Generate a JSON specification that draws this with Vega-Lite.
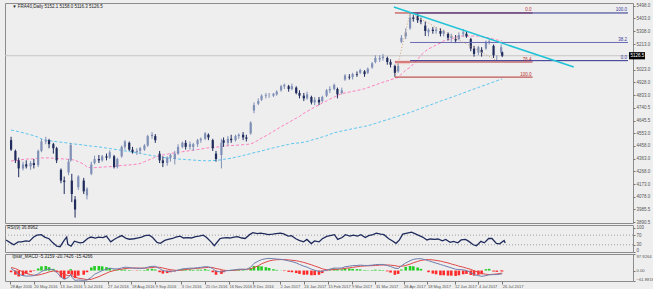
{
"$schema": "https://vega.github.io/schema/vega-lite/v6.json",
"background": "#eeeeee",
"padding": {"left": 3, "top": 2, "right": 0, "bottom": 0},
"spacing": 2,
"bounds": "flush",
"config": {"view": {"stroke": "#8c8c8c", "strokeWidth": 1}, "font": "Liberation Sans", "axis": {"labelFont": "Liberation Sans", "labelColor": "#555555", "tickColor": "#777777", "grid": false, "domain": false, "labelOverlap": false}},
"datasets": {
"px": [
{"d":"2016-04-29","o":4500,"h":4525,"l":4420,"c":4430,"a":4346,"b":4575,"r":50,"m":12,"s":18,"hh":-10},
{"d":"2016-05-03","o":4420,"h":4430,"l":4330,"c":4350,"a":4348,"b":4568,"r":38,"m":-5,"s":12,"hh":-25},
{"d":"2016-05-06","o":4350,"h":4370,"l":4225,"c":4290,"a":4352,"b":4562,"r":30,"m":-22,"s":3,"hh":-35},
{"d":"2016-05-10","o":4290,"h":4340,"l":4275,"c":4320,"a":4356,"b":4555,"r":42,"m":-30,"s":-8,"hh":-30},
{"d":"2016-05-13","o":4320,"h":4350,"l":4290,"c":4305,"a":4360,"b":4548,"r":42,"m":-33,"s":-17,"hh":-20},
{"d":"2016-05-17","o":4305,"h":4345,"l":4280,"c":4330,"a":4360,"b":4540,"r":46,"m":-32,"s":-24,"hh":-10},
{"d":"2016-05-20","o":4330,"h":4360,"l":4290,"c":4315,"a":4362,"b":4533,"r":44,"m":-30,"s":-28,"hh":-3},
{"d":"2016-05-24","o":4315,"h":4430,"l":4300,"c":4420,"a":4366,"b":4522,"r":62,"m":-20,"s":-27,"hh":12},
{"d":"2016-05-27","o":4420,"h":4510,"l":4410,"c":4490,"a":4368,"b":4508,"r":70,"m":-6,"s":-22,"hh":25},
{"d":"2016-05-31","o":4490,"h":4525,"l":4470,"c":4500,"a":4368,"b":4500,"r":72,"m":5,"s":-15,"hh":27},
{"d":"2016-06-03","o":4500,"h":4510,"l":4440,"c":4470,"a":4368,"b":4496,"r":62,"m":8,"s":-8,"hh":20},
{"d":"2016-06-07","o":4470,"h":4480,"l":4400,"c":4440,"a":4366,"b":4492,"r":55,"m":5,"s":-3,"hh":10},
{"d":"2016-06-10","o":4440,"h":4450,"l":4330,"c":4350,"a":4364,"b":4488,"r":40,"m":-10,"s":-4,"hh":-10},
{"d":"2016-06-14","o":4280,"h":4290,"l":4180,"c":4200,"a":4362,"b":4485,"r":24,"m":-38,"s":-12,"hh":-40},
{"d":"2016-06-17","o":4200,"h":4230,"l":4100,"c":4190,"a":4360,"b":4482,"r":22,"m":-52,"s":-24,"hh":-50},
{"d":"2016-06-21","o":4260,"h":4360,"l":4240,"c":4340,"a":4358,"b":4478,"r":50,"m":-40,"s":-30,"hh":-20},
{"d":"2016-06-23","o":4350,"h":4480,"l":4340,"c":4465,"a":4357,"b":4475,"r":62,"m":-22,"s":-28,"hh":8},
{"d":"2016-06-24","o":4200,"h":4250,"l":4040,"c":4100,"a":4355,"b":4474,"r":32,"m":-40,"s":-30,"hh":-25},
{"d":"2016-06-27","o":4060,"h":4085,"l":3925,"c":3985,"a":4350,"b":4471,"r":24,"m":-58,"s":-38,"hh":-45},
{"d":"2016-06-30","o":4150,"h":4240,"l":4130,"c":4230,"a":4340,"b":4468,"r":45,"m":-56,"s":-45,"hh":-30},
{"d":"2016-07-05","o":4200,"h":4220,"l":4100,"c":4120,"a":4322,"b":4464,"r":38,"m":-58,"s":-50,"hh":-25},
{"d":"2016-07-08","o":4090,"h":4150,"l":4060,"c":4140,"a":4300,"b":4459,"r":40,"m":-56,"s":-54,"hh":-10},
{"d":"2016-07-12","o":4250,"h":4340,"l":4240,"c":4320,"a":4295,"b":4456,"r":56,"m":-40,"s":-52,"hh":18},
{"d":"2016-07-15","o":4330,"h":4385,"l":4320,"c":4360,"a":4296,"b":4453,"r":62,"m":-22,"s":-45,"hh":27},
{"d":"2016-07-19","o":4360,"h":4390,"l":4330,"c":4350,"a":4298,"b":4450,"r":58,"m":-10,"s":-36,"hh":27},
{"d":"2016-07-22","o":4350,"h":4390,"l":4340,"c":4380,"a":4300,"b":4446,"r":62,"m":0,"s":-27,"hh":25},
{"d":"2016-07-26","o":4380,"h":4400,"l":4350,"c":4370,"a":4302,"b":4441,"r":60,"m":8,"s":-16,"hh":20},
{"d":"2016-07-29","o":4370,"h":4425,"l":4360,"c":4410,"a":4303,"b":4438,"r":66,"m":14,"s":-7,"hh":15},
{"d":"2016-08-02","o":4380,"h":4390,"l":4290,"c":4300,"a":4305,"b":4433,"r":42,"m":10,"s":0,"hh":5},
{"d":"2016-08-05","o":4300,"h":4370,"l":4290,"c":4360,"a":4310,"b":4429,"r":52,"m":10,"s":5,"hh":3},
{"d":"2016-08-09","o":4380,"h":4460,"l":4370,"c":4450,"a":4312,"b":4424,"r":62,"m":15,"s":8,"hh":5},
{"d":"2016-08-12","o":4450,"h":4500,"l":4430,"c":4490,"a":4314,"b":4420,"r":68,"m":20,"s":12,"hh":6},
{"d":"2016-08-16","o":4480,"h":4490,"l":4420,"c":4430,"a":4316,"b":4415,"r":56,"m":18,"s":14,"hh":3},
{"d":"2016-08-19","o":4430,"h":4450,"l":4400,"c":4410,"a":4318,"b":4412,"r":53,"m":15,"s":15,"hh":-1},
{"d":"2016-08-23","o":4410,"h":4440,"l":4390,"c":4420,"a":4322,"b":4406,"r":55,"m":13,"s":15,"hh":-2},
{"d":"2016-08-26","o":4420,"h":4450,"l":4400,"c":4440,"a":4326,"b":4402,"r":58,"m":13,"s":14,"hh":2},
{"d":"2016-08-30","o":4430,"h":4470,"l":4420,"c":4460,"a":4340,"b":4395,"r":62,"m":15,"s":14,"hh":3},
{"d":"2016-09-02","o":4460,"h":4540,"l":4450,"c":4530,"a":4350,"b":4391,"r":68,"m":20,"s":15,"hh":8},
{"d":"2016-09-06","o":4530,"h":4560,"l":4510,"c":4540,"a":4362,"b":4386,"r":70,"m":25,"s":18,"hh":10},
{"d":"2016-09-09","o":4530,"h":4545,"l":4480,"c":4500,"a":4375,"b":4381,"r":60,"m":25,"s":20,"hh":6},
{"d":"2016-09-13","o":4400,"h":4420,"l":4330,"c":4350,"a":4385,"b":4376,"r":40,"m":12,"s":19,"hh":-10},
{"d":"2016-09-16","o":4350,"h":4380,"l":4300,"c":4330,"a":4390,"b":4372,"r":36,"m":0,"s":15,"hh":-18},
{"d":"2016-09-20","o":4330,"h":4380,"l":4310,"c":4370,"a":4396,"b":4368,"r":48,"m":-5,"s":9,"hh":-15},
{"d":"2016-09-23","o":4370,"h":4400,"l":4340,"c":4390,"a":4400,"b":4366,"r":52,"m":-5,"s":5,"hh":-10},
{"d":"2016-09-27","o":4360,"h":4420,"l":4320,"c":4400,"a":4406,"b":4363,"r":56,"m":-3,"s":2,"hh":-5},
{"d":"2016-09-30","o":4400,"h":4470,"l":4390,"c":4450,"a":4410,"b":4360,"r":62,"m":3,"s":1,"hh":3},
{"d":"2016-10-04","o":4450,"h":4490,"l":4440,"c":4480,"a":4414,"b":4358,"r":66,"m":10,"s":3,"hh":8},
{"d":"2016-10-07","o":4480,"h":4500,"l":4430,"c":4450,"a":4418,"b":4356,"r":58,"m":12,"s":6,"hh":7},
{"d":"2016-10-11","o":4450,"h":4490,"l":4430,"c":4470,"a":4422,"b":4354,"r":60,"m":14,"s":9,"hh":6},
{"d":"2016-10-14","o":4450,"h":4480,"l":4420,"c":4470,"a":4426,"b":4352,"r":58,"m":14,"s":11,"hh":4},
{"d":"2016-10-18","o":4470,"h":4510,"l":4450,"c":4500,"a":4430,"b":4350,"r":64,"m":17,"s":13,"hh":5},
{"d":"2016-10-21","o":4500,"h":4520,"l":4480,"c":4510,"a":4434,"b":4348,"r":66,"m":19,"s":15,"hh":5},
{"d":"2016-10-25","o":4510,"h":4560,"l":4500,"c":4550,"a":4440,"b":4347,"r":70,"m":23,"s":17,"hh":8},
{"d":"2016-10-28","o":4540,"h":4550,"l":4500,"c":4520,"a":4443,"b":4347,"r":60,"m":22,"s":19,"hh":4},
{"d":"2016-11-01","o":4500,"h":4510,"l":4420,"c":4440,"a":4446,"b":4348,"r":42,"m":12,"s":18,"hh":-10},
{"d":"2016-11-04","o":4400,"h":4420,"l":4340,"c":4360,"a":4448,"b":4350,"r":26,"m":-5,"s":12,"hh":-25},
{"d":"2016-11-09","o":4390,"h":4510,"l":4290,"c":4480,"a":4452,"b":4354,"r":55,"m":-8,"s":6,"hh":-20},
{"d":"2016-11-11","o":4500,"h":4520,"l":4450,"c":4480,"a":4457,"b":4358,"r":58,"m":-5,"s":2,"hh":-10},
{"d":"2016-11-15","o":4480,"h":4530,"l":4460,"c":4510,"a":4458,"b":4362,"r":60,"m":0,"s":0,"hh":2},
{"d":"2016-11-18","o":4510,"h":4540,"l":4480,"c":4500,"a":4460,"b":4366,"r":58,"m":2,"s":0,"hh":4},
{"d":"2016-11-22","o":4500,"h":4540,"l":4490,"c":4530,"a":4462,"b":4373,"r":62,"m":5,"s":2,"hh":5},
{"d":"2016-11-25","o":4530,"h":4550,"l":4510,"c":4540,"a":4464,"b":4378,"r":64,"m":8,"s":4,"hh":6},
{"d":"2016-11-29","o":4540,"h":4560,"l":4500,"c":4520,"a":4466,"b":4386,"r":58,"m":8,"s":6,"hh":4},
{"d":"2016-12-02","o":4520,"h":4540,"l":4490,"c":4510,"a":4468,"b":4392,"r":56,"m":7,"s":7,"hh":1},
{"d":"2016-12-06","o":4550,"h":4640,"l":4540,"c":4630,"a":4472,"b":4400,"r":72,"m":20,"s":10,"hh":15},
{"d":"2016-12-09","o":4720,"h":4780,"l":4700,"c":4760,"a":4482,"b":4407,"r":80,"m":42,"s":18,"hh":27},
{"d":"2016-12-13","o":4770,"h":4810,"l":4760,"c":4790,"a":4500,"b":4414,"r":76,"m":56,"s":28,"hh":27},
{"d":"2016-12-16","o":4800,"h":4840,"l":4790,"c":4830,"a":4515,"b":4420,"r":78,"m":65,"s":40,"hh":25},
{"d":"2016-12-20","o":4830,"h":4850,"l":4810,"c":4835,"a":4532,"b":4428,"r":75,"m":70,"s":50,"hh":20},
{"d":"2016-12-23","o":4830,"h":4850,"l":4815,"c":4830,"a":4546,"b":4435,"r":72,"m":72,"s":57,"hh":15},
{"d":"2016-12-27","o":4830,"h":4850,"l":4820,"c":4845,"a":4566,"b":4443,"r":74,"m":70,"s":62,"hh":8},
{"d":"2016-12-30","o":4840,"h":4870,"l":4830,"c":4860,"a":4580,"b":4448,"r":76,"m":68,"s":64,"hh":4},
{"d":"2017-01-03","o":4870,"h":4910,"l":4860,"c":4900,"a":4600,"b":4456,"r":78,"m":66,"s":65,"hh":1},
{"d":"2017-01-06","o":4900,"h":4920,"l":4880,"c":4910,"a":4614,"b":4462,"r":75,"m":63,"s":65,"hh":-3},
{"d":"2017-01-10","o":4900,"h":4910,"l":4860,"c":4880,"a":4630,"b":4468,"r":66,"m":57,"s":63,"hh":-8},
{"d":"2017-01-13","o":4880,"h":4920,"l":4870,"c":4900,"a":4645,"b":4474,"r":68,"m":53,"s":61,"hh":-10},
{"d":"2017-01-17","o":4890,"h":4900,"l":4840,"c":4850,"a":4663,"b":4478,"r":55,"m":45,"s":58,"hh":-15},
{"d":"2017-01-20","o":4850,"h":4870,"l":4810,"c":4830,"a":4676,"b":4479,"r":48,"m":36,"s":54,"hh":-20},
{"d":"2017-01-24","o":4830,"h":4850,"l":4790,"c":4810,"a":4700,"b":4485,"r":42,"m":26,"s":48,"hh":-25},
{"d":"2017-01-27","o":4810,"h":4860,"l":4800,"c":4840,"a":4713,"b":4490,"r":52,"m":20,"s":42,"hh":-24},
{"d":"2017-01-31","o":4820,"h":4830,"l":4765,"c":4780,"a":4731,"b":4500,"r":35,"m":8,"s":34,"hh":-28},
{"d":"2017-02-03","o":4780,"h":4820,"l":4760,"c":4800,"a":4746,"b":4506,"r":46,"m":2,"s":27,"hh":-27},
{"d":"2017-02-07","o":4800,"h":4820,"l":4760,"c":4780,"a":4761,"b":4515,"r":42,"m":-5,"s":18,"hh":-25},
{"d":"2017-02-10","o":4790,"h":4830,"l":4780,"c":4820,"a":4776,"b":4524,"r":55,"m":-4,"s":10,"hh":-15},
{"d":"2017-02-14","o":4830,"h":4880,"l":4820,"c":4870,"a":4791,"b":4533,"r":65,"m":2,"s":5,"hh":-3},
{"d":"2017-02-17","o":4870,"h":4900,"l":4850,"c":4880,"a":4804,"b":4543,"r":68,"m":8,"s":4,"hh":5},
{"d":"2017-02-21","o":4880,"h":4920,"l":4870,"c":4910,"a":4820,"b":4555,"r":72,"m":15,"s":6,"hh":12},
{"d":"2017-02-24","o":4880,"h":4890,"l":4810,"c":4840,"a":4831,"b":4560,"r":52,"m":14,"s":8,"hh":8},
{"d":"2017-02-28","o":4850,"h":4890,"l":4840,"c":4870,"a":4846,"b":4568,"r":60,"m":15,"s":10,"hh":7},
{"d":"2017-03-03","o":4950,"h":4990,"l":4940,"c":4980,"a":4850,"b":4573,"r":72,"m":22,"s":13,"hh":12},
{"d":"2017-03-07","o":4970,"h":4990,"l":4950,"c":4965,"a":4857,"b":4579,"r":66,"m":26,"s":16,"hh":12},
{"d":"2017-03-10","o":4970,"h":5000,"l":4950,"c":4990,"a":4862,"b":4585,"r":70,"m":29,"s":19,"hh":10},
{"d":"2017-03-14","o":4990,"h":5010,"l":4970,"c":4985,"a":4868,"b":4591,"r":66,"m":30,"s":22,"hh":8},
{"d":"2017-03-17","o":5000,"h":5030,"l":4990,"c":5020,"a":4874,"b":4596,"r":72,"m":32,"s":25,"hh":7},
{"d":"2017-03-21","o":5010,"h":5020,"l":4970,"c":4990,"a":4882,"b":4602,"r":60,"m":30,"s":27,"hh":3},
{"d":"2017-03-24","o":5000,"h":5040,"l":4990,"c":5030,"a":4890,"b":4607,"r":68,"m":30,"s":28,"hh":2},
{"d":"2017-03-28","o":5040,"h":5080,"l":5030,"c":5070,"a":4902,"b":4617,"r":72,"m":32,"s":29,"hh":3},
{"d":"2017-03-31","o":5080,"h":5130,"l":5070,"c":5110,"a":4910,"b":4624,"r":78,"m":35,"s":30,"hh":5},
{"d":"2017-04-04","o":5100,"h":5130,"l":5080,"c":5110,"a":4922,"b":4635,"r":74,"m":36,"s":32,"hh":4},
{"d":"2017-04-07","o":5110,"h":5140,"l":5090,"c":5120,"a":4930,"b":4643,"r":72,"m":36,"s":33,"hh":3},
{"d":"2017-04-11","o":5110,"h":5120,"l":5060,"c":5080,"a":4940,"b":4652,"r":56,"m":30,"s":33,"hh":-5},
{"d":"2017-04-14","o":5080,"h":5100,"l":5040,"c":5060,"a":4948,"b":4660,"r":48,"m":24,"s":32,"hh":-12},
{"d":"2017-04-18","o":5050,"h":5060,"l":4968,"c":5000,"a":4958,"b":4670,"r":36,"m":14,"s":29,"hh":-25},
{"d":"2017-04-21","o":5010,"h":5070,"l":5000,"c":5050,"a":4966,"b":4678,"r":50,"m":12,"s":25,"hh":-20},
{"d":"2017-04-24","o":5230,"h":5280,"l":5220,"c":5260,"a":4990,"b":4685,"r":74,"m":28,"s":25,"hh":6},
{"d":"2017-04-28","o":5270,"h":5330,"l":5250,"c":5300,"a":5020,"b":4696,"r":78,"m":45,"s":30,"hh":22},
{"d":"2017-05-02","o":5330,"h":5444,"l":5320,"c":5410,"a":5040,"b":4706,"r":82,"m":58,"s":38,"hh":27},
{"d":"2017-05-05","o":5410,"h":5430,"l":5380,"c":5400,"a":5065,"b":4714,"r":76,"m":66,"s":46,"hh":25},
{"d":"2017-05-09","o":5420,"h":5440,"l":5370,"c":5390,"a":5100,"b":4727,"r":68,"m":70,"s":54,"hh":18},
{"d":"2017-05-12","o":5390,"h":5410,"l":5360,"c":5380,"a":5130,"b":4736,"r":62,"m":70,"s":60,"hh":10},
{"d":"2017-05-16","o":5350,"h":5380,"l":5273,"c":5310,"a":5160,"b":4748,"r":50,"m":64,"s":64,"hh":0},
{"d":"2017-05-19","o":5300,"h":5330,"l":5270,"c":5320,"a":5177,"b":4757,"r":54,"m":58,"s":65,"hh":-10},
{"d":"2017-05-23","o":5320,"h":5340,"l":5290,"c":5310,"a":5193,"b":4768,"r":52,"m":50,"s":63,"hh":-18},
{"d":"2017-05-26","o":5310,"h":5340,"l":5290,"c":5320,"a":5208,"b":4777,"r":54,"m":44,"s":60,"hh":-22},
{"d":"2017-05-30","o":5310,"h":5330,"l":5270,"c":5290,"a":5220,"b":4790,"r":46,"m":36,"s":56,"hh":-28},
{"d":"2017-06-02","o":5290,"h":5320,"l":5270,"c":5310,"a":5238,"b":4797,"r":52,"m":30,"s":51,"hh":-28},
{"d":"2017-06-06","o":5290,"h":5300,"l":5240,"c":5260,"a":5245,"b":4809,"r":40,"m":22,"s":45,"hh":-30},
{"d":"2017-06-09","o":5260,"h":5290,"l":5230,"c":5270,"a":5252,"b":4818,"r":44,"m":16,"s":39,"hh":-30},
{"d":"2017-06-13","o":5250,"h":5280,"l":5220,"c":5240,"a":5262,"b":4829,"r":38,"m":8,"s":32,"hh":-32},
{"d":"2017-06-16","o":5250,"h":5300,"l":5240,"c":5280,"a":5270,"b":4838,"r":50,"m":6,"s":26,"hh":-28},
{"d":"2017-06-20","o":5290,"h":5325,"l":5270,"c":5300,"a":5273,"b":4850,"r":52,"m":4,"s":20,"hh":-22},
{"d":"2017-06-23","o":5290,"h":5310,"l":5260,"c":5270,"a":5273,"b":4859,"r":44,"m":0,"s":14,"hh":-20},
{"d":"2017-06-27","o":5250,"h":5260,"l":5160,"c":5180,"a":5273,"b":4871,"r":30,"m":-12,"s":7,"hh":-26},
{"d":"2017-06-30","o":5180,"h":5200,"l":5120,"c":5140,"a":5273,"b":4880,"r":26,"m":-24,"s":-1,"hh":-30},
{"d":"2017-07-04","o":5150,"h":5200,"l":5130,"c":5190,"a":5272,"b":4891,"r":44,"m":-30,"s":-10,"hh":-25},
{"d":"2017-07-07","o":5170,"h":5190,"l":5120,"c":5150,"a":5268,"b":4900,"r":38,"m":-34,"s":-17,"hh":-22},
{"d":"2017-07-11","o":5180,"h":5240,"l":5170,"c":5230,"a":5262,"b":4911,"r":56,"m":-30,"s":-22,"hh":8},
{"d":"2017-07-14","o":5230,"h":5250,"l":5210,"c":5235,"a":5258,"b":4920,"r":56,"m":-25,"s":-24,"hh":10},
{"d":"2017-07-18","o":5200,"h":5210,"l":5110,"c":5130,"a":5250,"b":4932,"r":36,"m":-24,"s":-22,"hh":-6},
{"d":"2017-07-21","o":5110,"h":5130,"l":5090,"c":5110,"a":5244,"b":4941,"r":34,"m":-24,"s":-20,"hh":-8},
{"d":"2017-07-25","o":5150,"h":5210,"l":5140,"c":5190,"a":5238,"b":4952,"r":48,"m":-20,"s":-16,"hh":-4},
{"d":"2017-07-26","o":5152.1,"h":5158,"l":5116.3,"c":5126.5,"a":5236,"b":4954,"r":36.9,"m":-20.7,"s":-15.4,"hh":-5.3}
],
"fib": [
{"d":"2017-04-18","d2":"2017-08-23","p":5444,"k":"#b83030"},
{"d":"2017-04-18","d2":"2017-08-23","p":5080,"k":"#b83030"},
{"d":"2017-04-18","d2":"2017-08-23","p":4968,"k":"#b83030"},
{"d":"2017-05-02","d2":"2017-11-19","p":5444,"k":"#2e2e8c"},
{"d":"2017-05-02","d2":"2017-11-19","p":5225,"k":"#6a6ab4"},
{"d":"2017-05-02","d2":"2017-11-19","p":5090,"k":"#2e2e8c"}
],
"fibt": [
{"d":"2017-08-23","p":5444,"t":"0.0","k":"#b83030"},
{"d":"2017-08-23","p":5080,"t":"76.4","k":"#b83030"},
{"d":"2017-08-23","p":4968,"t":"100.0","k":"#b83030"},
{"d":"2017-11-19","p":5444,"t":"100.0","k":"#3a3a9a"},
{"d":"2017-11-19","p":5225,"t":"38.2","k":"#3a3a9a"},
{"d":"2017-11-19","p":5090,"t":"0.0","k":"#3a3a9a"}
],
"diag": [
{"d":"2017-04-18","p":4968,"d2":"2017-05-02","p2":5444},
{"d":"2017-05-02","p":5444,"d2":"2017-07-21","p2":5090}
],
"trend": [
{"d":"2017-04-17","p":5488,"d2":"2017-09-30","p2":5043}
]
},
"vconcat": [
{
"width": 628, "height": 220,
"layer": [
{"data": {"values": [{"p": 5126.5}]}, "mark": {"type": "rule", "color": "#c6c6c6", "strokeWidth": 1},
 "encoding": {"y": {"field": "p", "type": "quantitative", "title": null, "scale": {"domain": [3885, 5518], "zero": false, "nice": false},
  "axis": {"orient": "right", "values": [5498, 5403, 5308, 5213, 5023, 4928, 4833, 4740.5, 4645.5, 4553, 4458, 4363, 4268, 4173, 4078, 3985.5, 3890.5], "tickCount": 100, "format": ".1f", "labelFontSize": 4.5, "tickSize": 2, "labelPadding": 1, "labelOverlap": false}}}},
{"data": {"values": [{"d":"2017-04-18","d2":"2017-05-02","p":5064,"p2":5092}]}, "mark": {"type": "rect", "color": "#f2caca"},
 "encoding": {"x": {"field": "d", "type": "temporal", "title": null, "axis": null, "scale": {"type": "utc", "nice": false, "domain": [{"year":2016,"month":4,"date":28,"utc":true},{"year":2017,"month":11,"date":19,"utc":true}]}},
  "x2": {"field": "d2"}, "y": {"field": "p", "type": "quantitative", "title": null, "scale": {"domain": [3885, 5518], "zero": false, "nice": false}}, "y2": {"field": "p2"}}},
{"data": {"name": "px"}, "mark": {"type": "line", "color": "#5cc6ee", "strokeDash": [3, 2], "strokeWidth": 1},
 "encoding": {"x": {"field": "d", "type": "temporal", "title": null, "axis": null, "scale": {"type": "utc", "nice": false, "domain": [{"year":2016,"month":4,"date":28,"utc":true},{"year":2017,"month":11,"date":19,"utc":true}]}},
  "y": {"field": "b", "type": "quantitative", "title": null, "scale": {"domain": [3885, 5518], "zero": false, "nice": false}}}},
{"data": {"name": "px"}, "mark": {"type": "line", "color": "#ff80c0", "strokeDash": [3, 2], "strokeWidth": 1},
 "encoding": {"x": {"field": "d", "type": "temporal", "title": null, "axis": null, "scale": {"type": "utc", "nice": false, "domain": [{"year":2016,"month":4,"date":28,"utc":true},{"year":2017,"month":11,"date":19,"utc":true}]}},
  "y": {"field": "a", "type": "quantitative", "title": null, "scale": {"domain": [3885, 5518], "zero": false, "nice": false}}}},
{"data": {"name": "px"}, "mark": {"type": "rule", "strokeWidth": 1},
 "encoding": {"x": {"field": "d", "type": "temporal", "title": null, "axis": null, "scale": {"type": "utc", "nice": false, "domain": [{"year":2016,"month":4,"date":28,"utc":true},{"year":2017,"month":11,"date":19,"utc":true}]}},
  "y": {"field": "l", "type": "quantitative", "title": null, "scale": {"domain": [3885, 5518], "zero": false, "nice": false}}, "y2": {"field": "h"},
  "color": {"condition": {"test": "datum.c >= datum.o", "value": "#7f8fb6"}, "value": "#1f2b5c"}}},
{"data": {"name": "px"}, "mark": {"type": "bar", "width": 2.2},
 "encoding": {"x": {"field": "d", "type": "temporal", "title": null, "axis": null, "scale": {"type": "utc", "nice": false, "domain": [{"year":2016,"month":4,"date":28,"utc":true},{"year":2017,"month":11,"date":19,"utc":true}]}},
  "y": {"field": "o", "type": "quantitative", "title": null, "scale": {"domain": [3885, 5518], "zero": false, "nice": false}}, "y2": {"field": "c"},
  "color": {"condition": {"test": "datum.c >= datum.o", "value": "#7f8fb6"}, "value": "#1f2b5c"}}},
{"data": {"name": "fib"}, "mark": {"type": "rule", "strokeWidth": 1},
 "encoding": {"x": {"field": "d", "type": "temporal", "title": null, "axis": null, "scale": {"type": "utc", "nice": false, "domain": [{"year":2016,"month":4,"date":28,"utc":true},{"year":2017,"month":11,"date":19,"utc":true}]}},
  "x2": {"field": "d2"}, "y": {"field": "p", "type": "quantitative", "title": null, "scale": {"domain": [3885, 5518], "zero": false, "nice": false}},
  "color": {"field": "k", "type": "nominal", "scale": null}}},
{"data": {"name": "diag"}, "mark": {"type": "rule", "strokeWidth": 1, "color": "#d4a478", "strokeDash": [1, 2]},
 "encoding": {"x": {"field": "d", "type": "temporal", "title": null, "axis": null, "scale": {"type": "utc", "nice": false, "domain": [{"year":2016,"month":4,"date":28,"utc":true},{"year":2017,"month":11,"date":19,"utc":true}]}},
  "x2": {"field": "d2"}, "y": {"field": "p", "type": "quantitative", "title": null, "scale": {"domain": [3885, 5518], "zero": false, "nice": false}}, "y2": {"field": "p2"}}},
{"data": {"name": "trend"}, "mark": {"type": "rule", "strokeWidth": 1.6, "color": "#1fc3d6"},
 "encoding": {"x": {"field": "d", "type": "temporal", "title": null, "axis": null, "scale": {"type": "utc", "nice": false, "domain": [{"year":2016,"month":4,"date":28,"utc":true},{"year":2017,"month":11,"date":19,"utc":true}]}},
  "x2": {"field": "d2"}, "y": {"field": "p", "type": "quantitative", "title": null, "scale": {"domain": [3885, 5518], "zero": false, "nice": false}}, "y2": {"field": "p2"}}},
{"data": {"name": "fibt"}, "mark": {"type": "text", "align": "right", "baseline": "bottom", "dx": -1, "dy": -0.5, "fontSize": 4.5},
 "encoding": {"x": {"field": "d", "type": "temporal", "title": null, "axis": null, "scale": {"type": "utc", "nice": false, "domain": [{"year":2016,"month":4,"date":28,"utc":true},{"year":2017,"month":11,"date":19,"utc":true}]}},
  "y": {"field": "p", "type": "quantitative", "title": null, "scale": {"domain": [3885, 5518], "zero": false, "nice": false}},
  "text": {"field": "t"}, "color": {"field": "k", "type": "nominal", "scale": null}}},
{"data": {"values": [{"t": "▼ FRA40,Daily  5152.1 5158.0 5116.3 5126.5", "d": "2016-04-30", "p": 5512}]}, "mark": {"type": "text", "align": "left", "baseline": "top", "fontSize": 4.5, "color": "#222222"},
 "encoding": {"x": {"field": "d", "type": "temporal", "title": null, "axis": null, "scale": {"type": "utc", "nice": false, "domain": [{"year":2016,"month":4,"date":28,"utc":true},{"year":2017,"month":11,"date":19,"utc":true}]}},
  "y": {"field": "p", "type": "quantitative", "title": null, "scale": {"domain": [3885, 5518], "zero": false, "nice": false}}, "text": {"field": "t"}}},
{"data": {"values": [{"d": "2017-11-19", "p": 5126.5}]}, "mark": {"type": "point", "shape": "M0.5,-1.8L8.5,-1.8L8.5,1.8L0.5,1.8Z", "size": 16, "filled": true, "color": "#000000", "opacity": 1},
 "encoding": {"x": {"field": "d", "type": "temporal", "title": null, "axis": null, "scale": {"type": "utc", "nice": false, "domain": [{"year":2016,"month":4,"date":28,"utc":true},{"year":2017,"month":11,"date":19,"utc":true}]}},
  "y": {"field": "p", "type": "quantitative", "title": null, "scale": {"domain": [3885, 5518], "zero": false, "nice": false}}}},
{"data": {"values": [{"d": "2017-11-19", "p": 5126.5, "t": "5126.5"}]}, "mark": {"type": "text", "align": "left", "baseline": "middle", "dx": 2.5, "fontSize": 4.5, "color": "#ffffff"},
 "encoding": {"x": {"field": "d", "type": "temporal", "title": null, "axis": null, "scale": {"type": "utc", "nice": false, "domain": [{"year":2016,"month":4,"date":28,"utc":true},{"year":2017,"month":11,"date":19,"utc":true}]}},
  "y": {"field": "p", "type": "quantitative", "title": null, "scale": {"domain": [3885, 5518], "zero": false, "nice": false}}, "text": {"field": "t"}}}
]
},
{
"width": 628, "height": 27,
"layer": [
{"data": {"values": [{"v": 70}, {"v": 30}]}, "mark": {"type": "rule", "color": "#a0a0a0", "strokeDash": [1, 2], "strokeWidth": 1},
 "encoding": {"y": {"field": "v", "type": "quantitative", "title": null, "scale": {"domain": [0, 112], "zero": false, "nice": false},
  "axis": {"orient": "right", "values": [0, 30, 70, 100], "tickCount": 100, "labelFontSize": 4.5, "tickSize": 2, "labelPadding": 1, "labelOverlap": false, "labelFlush": true}}}},
{"data": {"name": "px"}, "mark": {"type": "line", "color": "#1f2b5c", "strokeWidth": 1.3},
 "encoding": {"x": {"field": "d", "type": "temporal", "title": null, "axis": null, "scale": {"type": "utc", "nice": false, "domain": [{"year":2016,"month":4,"date":28,"utc":true},{"year":2017,"month":11,"date":19,"utc":true}]}},
  "y": {"field": "r", "type": "quantitative", "title": null, "scale": {"domain": [0, 112], "zero": false, "nice": false}}}},
{"data": {"values": [{"t": "RSI(9) 36.8962", "d": "2016-04-30", "v": 110}]}, "mark": {"type": "text", "align": "left", "baseline": "top", "fontSize": 4.5, "color": "#222222"},
 "encoding": {"x": {"field": "d", "type": "temporal", "title": null, "axis": null, "scale": {"type": "utc", "nice": false, "domain": [{"year":2016,"month":4,"date":28,"utc":true},{"year":2017,"month":11,"date":19,"utc":true}]}},
  "y": {"field": "v", "type": "quantitative", "title": null, "scale": {"domain": [0, 112], "zero": false, "nice": false}}, "text": {"field": "t"}}}
]
},
{
"width": 628, "height": 27,
"layer": [
{"data": {"name": "px"}, "mark": {"type": "bar", "width": 2.6},
 "encoding": {"x": {"field": "d", "type": "temporal", "title": null, "scale": {"type": "utc", "nice": false, "domain": [{"year":2016,"month":4,"date":28,"utc":true},{"year":2017,"month":11,"date":19,"utc":true}]},
   "axis": {"orient": "bottom", "values": [{"year":2016,"month":4,"date":28,"utc":true},{"year":2016,"month":5,"date":20,"utc":true},{"year":2016,"month":6,"date":13,"utc":true},{"year":2016,"month":7,"date":5,"utc":true},{"year":2016,"month":7,"date":27,"utc":true},{"year":2016,"month":8,"date":18,"utc":true},{"year":2016,"month":9,"date":9,"utc":true},{"year":2016,"month":10,"date":3,"utc":true},{"year":2016,"month":10,"date":25,"utc":true},{"year":2016,"month":11,"date":16,"utc":true},{"year":2016,"month":12,"date":8,"utc":true},{"year":2017,"month":1,"date":2,"utc":true},{"year":2017,"month":1,"date":24,"utc":true},{"year":2017,"month":2,"date":15,"utc":true},{"year":2017,"month":3,"date":9,"utc":true},{"year":2017,"month":3,"date":31,"utc":true},{"year":2017,"month":4,"date":26,"utc":true},{"year":2017,"month":5,"date":18,"utc":true},{"year":2017,"month":6,"date":12,"utc":true},{"year":2017,"month":7,"date":4,"utc":true},{"year":2017,"month":7,"date":26,"utc":true}],
    "tickCount": 100, "labelExpr": "utcFormat(datum.value, '%-d %b %Y')", "labelAlign": "left", "labelFontSize": 4, "tickSize": 3, "labelPadding": 0, "labelOverlap": false, "labelFlush": false}},
  "y": {"field": "hh", "type": "quantitative", "title": null, "scale": {"domain": [-61.8818, 97.9264], "zero": false, "nice": false},
   "axis": {"orient": "right", "values": [97.9264, 0, -61.8818], "tickCount": 100, "labelExpr": "datum.value == 0 ? '0.00' : format(datum.value, '.4f')", "labelFontSize": 4.2, "tickSize": 2, "labelPadding": 1, "labelOverlap": false, "labelFlush": true}},
  "y2": {"datum": 0},
  "color": {"condition": {"test": "datum.hh >= 0", "value": "#22cc22"}, "value": "#ff2a2a"}}},
{"data": {"name": "px"}, "mark": {"type": "line", "color": "#e04848", "strokeWidth": 1},
 "encoding": {"x": {"field": "d", "type": "temporal", "title": null, "scale": {"type": "utc", "nice": false, "domain": [{"year":2016,"month":4,"date":28,"utc":true},{"year":2017,"month":11,"date":19,"utc":true}]}},
  "y": {"field": "s", "type": "quantitative", "title": null, "scale": {"domain": [-61.8818, 97.9264], "zero": false, "nice": false}}}},
{"data": {"name": "px"}, "mark": {"type": "line", "color": "#6f7fae", "strokeWidth": 1},
 "encoding": {"x": {"field": "d", "type": "temporal", "title": null, "scale": {"type": "utc", "nice": false, "domain": [{"year":2016,"month":4,"date":28,"utc":true},{"year":2017,"month":11,"date":19,"utc":true}]}},
  "y": {"field": "m", "type": "quantitative", "title": null, "scale": {"domain": [-61.8818, 97.9264], "zero": false, "nice": false}}}},
{"data": {"values": [{"t": "Ipsar_MACD -5.3159 -20.7426 -15.4266", "d": "2016-04-30", "v": 95}]}, "mark": {"type": "text", "align": "left", "baseline": "top", "fontSize": 4.5, "color": "#222222"},
 "encoding": {"x": {"field": "d", "type": "temporal", "title": null, "scale": {"type": "utc", "nice": false, "domain": [{"year":2016,"month":4,"date":28,"utc":true},{"year":2017,"month":11,"date":19,"utc":true}]}},
  "y": {"field": "v", "type": "quantitative", "title": null, "scale": {"domain": [-61.8818, 97.9264], "zero": false, "nice": false}}, "text": {"field": "t"}}}
]
}
]
}
